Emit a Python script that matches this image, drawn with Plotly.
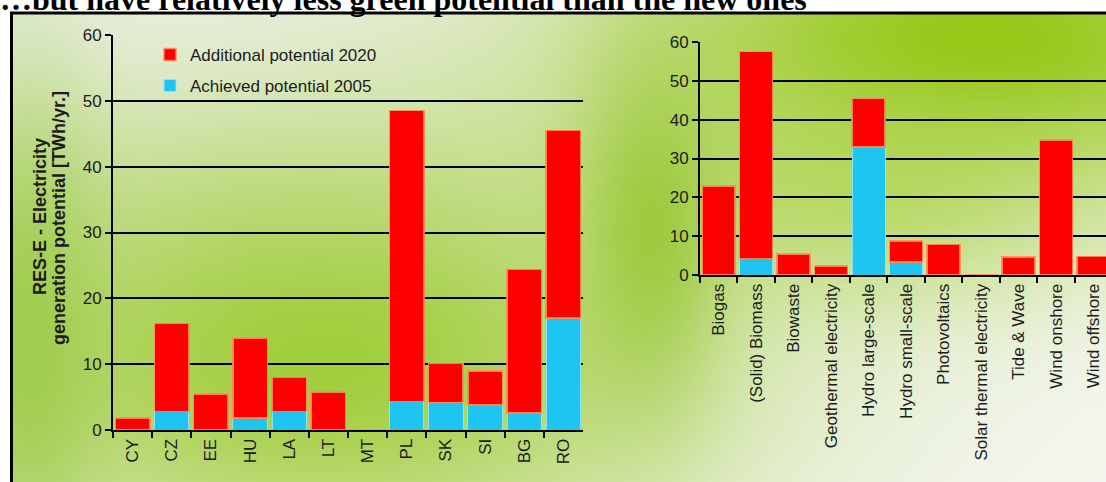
import base64
import struct
import zlib

import numpy as np
import plotly.graph_objects as go

# ---------------------------------------------------------------- data
countries = ["CY", "CZ", "EE", "HU", "LA", "LT", "MT", "PL", "SK", "SI", "BG", "RO"]
country_achieved_2005 = [0, 2.8, 0, 1.8, 2.8, 0, 0, 4.3, 4.2, 3.8, 2.6, 17.0]
country_additional_2020 = [1.8, 13.4, 5.5, 12.2, 5.2, 5.8, 0, 44.2, 5.9, 5.2, 21.8, 28.5]

technologies = [
    "Biogas", "(Solid) Biomass", "Biowaste", "Geothermal electricity",
    "Hydro large-scale", "Hydro small-scale", "Photovoltaics",
    "Solar thermal electricity", "Tide & Wave", "Wind onshore", "Wind offshore",
]
tech_achieved_2005 = [0, 4.2, 0, 0, 33.0, 3.4, 0, 0, 0, 0, 0]
tech_additional_2020 = [22.9, 53.3, 5.4, 2.3, 12.4, 5.4, 7.9, 0, 4.7, 34.8, 4.8]

y_ticks = [0, 10, 20, 30, 40, 50, 60]

# ---------------------------------------------------------------- page
W, H = 1106, 482
RED = "#ff0000"
CYAN = "#1ec5f0"
SANS = "Liberation Sans, Arial, sans-serif"
TXT = "#1c1c1c"


def px_x(p):
    return p / W


def px_y(p):
    return 1 - p / H


# ------------------------------------------------- green backdrop image
def backdrop(w, h, scale):
    yy, xx = np.mgrid[0:h, 0:w].astype(float)
    X = 12 + xx * scale
    Y = 13 + yy * scale
    t = np.clip((X / W + Y / H) / 2, 0, 1)[..., None]
    img = np.array([236, 240, 231]) * (1 - t) + np.array([245, 247, 241]) * t
    blobs = [
        # cx, cy, sx, sy, colour, strength
        (250, 200, 220, 90, (205, 226, 165), 0.5),
        (320, 360, 280, 150, (158, 204, 52), 0.95),
        (25, 340, 50, 180, (150, 200, 60), 0.75),
        (980, 40, 260, 110, (150, 200, 22), 1.0),
        (860, 190, 170, 80, (168, 210, 64), 0.6),
        (650, 230, 50, 120, (152, 200, 52), 0.85),
    ]
    for cx, cy, sx, sy, col, s in blobs:
        a = s * np.exp(-(((X - cx) / sx) ** 2 + ((Y - cy) / sy) ** 2) / 2)[..., None]
        img = img * (1 - a) + np.array(col) * a
    return np.clip(img, 0, 255).astype(np.uint8)


def png_uri(arr):
    h, w, _ = arr.shape
    raw = b"".join(b"\x00" + arr[r].tobytes() for r in range(h))

    def chunk(tag, data):
        body = tag + data
        return struct.pack(">I", len(data)) + body + struct.pack(">I", zlib.crc32(body) & 0xFFFFFFFF)

    png = (b"\x89PNG\r\n\x1a\n"
           + chunk(b"IHDR", struct.pack(">IIBBBBB", w, h, 8, 2, 0, 0, 0))
           + chunk(b"IDAT", zlib.compress(raw, 9))
           + chunk(b"IEND", b""))
    return "data:image/png;base64," + base64.b64encode(png).decode()


SCALE = 4
bg = backdrop((W - 12) // SCALE + 1, (H - 13) // SCALE + 1, SCALE)

# ---------------------------------------------------------------- traces
fig = go.Figure()
bar_w = 0.88
fig.add_trace(go.Bar(
    x=countries, y=country_achieved_2005, name="Achieved potential 2005",
    marker=dict(color=CYAN, line=dict(color="rgba(150,228,245,0.9)", width=1)),
    width=bar_w, xaxis="x", yaxis="y", legend="legend2",
))
fig.add_trace(go.Bar(
    x=countries, y=country_additional_2020, name="Additional potential 2020",
    marker=dict(color=RED, line=dict(color="rgba(255,140,85,0.9)", width=1.5)),
    width=bar_w, xaxis="x", yaxis="y", legend="legend",
))
fig.add_trace(go.Bar(
    x=technologies, y=tech_achieved_2005, name="Achieved potential 2005",
    marker=dict(color=CYAN, line=dict(color="rgba(150,228,245,0.9)", width=1)),
    width=bar_w, xaxis="x2", yaxis="y2", showlegend=False,
))
fig.add_trace(go.Bar(
    x=technologies, y=tech_additional_2020, name="Additional potential 2020",
    marker=dict(color=RED, line=dict(color="rgba(255,140,85,0.9)", width=1.5)),
    width=bar_w, xaxis="x2", yaxis="y2", showlegend=False,
))

# ---------------------------------------------------------------- axes
x_common = dict(
    type="category", tickangle=-90, ticks="outside", tickson="boundaries",
    ticklen=6, tickwidth=2, tickcolor="black", showline=True, linecolor="black",
    linewidth=2, showgrid=False, automargin=False,
    tickfont=dict(family=SANS, size=17, color=TXT),
)
y_common = dict(
    range=[0, 60], tickvals=y_ticks, showgrid=True, gridcolor="black", gridwidth=2,
    showline=True, linecolor="black", linewidth=2, ticks="outside", ticklen=6,
    tickwidth=2, tickcolor="black", zeroline=False, automargin=False,
    tickfont=dict(family=SANS, size=17, color=TXT),
)

fig.update_layout(
    width=W, height=H, margin=dict(l=0, r=0, t=0, b=0, autoexpand=False),
    paper_bgcolor="white", plot_bgcolor="rgba(0,0,0,0)",
    barmode="stack", font=dict(family=SANS, color=TXT),
    xaxis=dict(domain=[px_x(113), px_x(583)], anchor="y",
               range=[-0.5, len(countries) - 0.5], **x_common),
    yaxis=dict(domain=[px_y(430), px_y(35)], anchor="x", **y_common),
    xaxis2=dict(domain=[px_x(700), 1.0], anchor="y2", range=[-0.5, 10.33], **x_common),
    yaxis2=dict(domain=[px_y(275), px_y(42)], anchor="x2", **y_common),
    legend=dict(x=px_x(150), y=px_y(55), xanchor="left", yanchor="middle",
                bgcolor="rgba(0,0,0,0)", font=dict(family=SANS, size=17, color=TXT)),
    legend2=dict(x=px_x(150), y=px_y(86), xanchor="left", yanchor="middle",
                 bgcolor="rgba(0,0,0,0)", font=dict(family=SANS, size=17, color=TXT)),
    images=[dict(source=png_uri(bg), xref="paper", yref="paper",
                 x=px_x(12), y=px_y(13), sizex=1 - px_x(12), sizey=px_y(13),
                 xanchor="left", yanchor="top", sizing="stretch", layer="below")],
    shapes=[
        dict(type="line", xref="paper", yref="paper", x0=px_x(10), x1=1.0,
             y0=px_y(13), y1=px_y(13), line=dict(color="black", width=3)),
        dict(type="line", xref="paper", yref="paper", x0=px_x(11.5), x1=px_x(11.5),
             y0=px_y(13), y1=0, line=dict(color="black", width=3)),
    ],
    annotations=[
        dict(text="…but have relatively less green potential than the new ones",
             xref="paper", yref="paper", x=px_x(-2), y=px_y(-1.5),
             xanchor="left", yanchor="middle", showarrow=False,
             font=dict(family="Liberation Serif, Times New Roman, serif", size=32,
                       color="black", weight="bold")),
        dict(text="RES-E - Electricity", textangle=-90, xref="paper", yref="paper",
             x=px_x(40), y=px_y(217), xanchor="center", yanchor="middle",
             showarrow=False, font=dict(family=SANS, size=18, color=TXT, weight="bold")),
        dict(text="generation potential [TWh/yr.]", textangle=-90, xref="paper",
             yref="paper", x=px_x(59), y=px_y(218), xanchor="center", yanchor="middle",
             showarrow=False, font=dict(family=SANS, size=18, color=TXT, weight="bold")),
    ],
)

fig.write_html("out.html")
